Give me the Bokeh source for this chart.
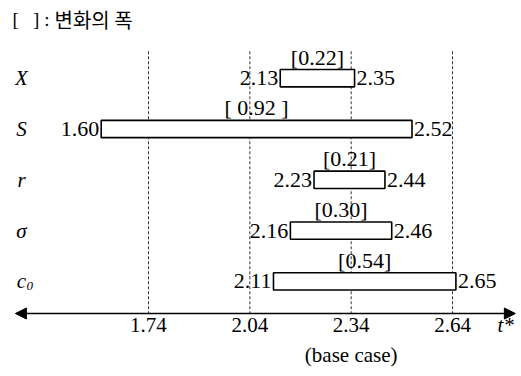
from bokeh.plotting import figure
from bokeh.models import ColumnDataSource, Range1d, Arrow, NormalHead, Label
from bokeh.core.properties import value
from bokeh.embed import file_html
from bokeh.resources import INLINE

# ---- data ----
params = ["X", "S", "r", "σ", "c"]
param_sub = ["", "", "", "", "0"]
low = [2.13, 1.60, 2.23, 2.16, 2.11]
high = [2.35, 2.52, 2.44, 2.46, 2.65]
width_labels = ["[0.22]", "[\u00a00.92\u00a0]", "[0.21]", "[0.30]", "[0.54]"]
ticks = [1.74, 2.04, 2.34, 2.64]
tick_labels = ["1.74", "2.04", "2.34", "2.64"]
base_case = 2.34

FONT_NAME = "Liberation Serif, Times New Roman, serif"
SERIF = value(FONT_NAME)
W, H = 521, 376

p = figure(width=W, height=H, output_backend="svg", toolbar_location=None,
           x_range=Range1d(1.3019, 2.8442), y_range=Range1d(5.872, -1.5295),
           x_axis_location=None, y_axis_location=None, min_border=0,
           outline_line_color=None, background_fill_color="white")
p.grid.visible = False

rows = list(range(len(params)))
AXIS_Y = 4.632
TOP_Y = -0.53

# dashed reference lines
p.segment(x0=ticks, x1=ticks, y0=[TOP_Y] * len(ticks), y1=[AXIS_Y] * len(ticks),
          line_color="#333333", line_width=1, line_dash="3 2")

src = ColumnDataSource(dict(
    row=rows, low=low, high=high,
    mid=[(a + b) / 2 for a, b in zip(low, high)],
    lo_txt=[f"{v:.2f}" for v in low], hi_txt=[f"{v:.2f}" for v in high],
    wl=width_labels,
))

BAR_H = 0.34
p.hbar(y="row", left="low", right="high", height=BAR_H, source=src,
       fill_color="white", line_color="black", line_width=1.6)

# value labels
p.text(x="low", y="row", text="lo_txt", source=src, text_align="right",
       text_baseline="middle", x_offset=-2, text_font=SERIF, text_font_size="22px",
       text_color="black")
p.text(x="high", y="row", text="hi_txt", source=src, text_align="left",
       text_baseline="middle", x_offset=2, text_font=SERIF, text_font_size="22px",
       text_color="black")

# bracket labels above bars
src.data["top"] = [r - BAR_H / 2 for r in rows]
p.text(x="mid", y="top", text="wl", source=src, text_align="center",
       text_baseline="bottom", text_font=SERIF, text_font_size="22px",
       text_color="black")

# row labels
LBL_X = 1.364
p.text(x=[LBL_X] * len(rows), y=rows, text=params, text_align="center",
       text_baseline="middle", text_font=SERIF, text_font_size="21px",
       text_font_style="italic", text_color="black")
p.text(x=[LBL_X] * len(rows), y=[r + 0.1 for r in rows], text=param_sub,
       text_align="left", text_baseline="middle", x_offset=5,
       text_font=SERIF, text_font_size="13px", text_font_style="italic",
       text_color="black")

# axis with arrows on both ends
p.add_layout(Arrow(x_start=1.346, x_end=2.826, y_start=AXIS_Y, y_end=AXIS_Y,
                   line_width=1.6, line_color="black",
                   start=NormalHead(size=11, fill_color="black", line_color="black"),
                   end=NormalHead(size=11, fill_color="black", line_color="black")))

# tick labels
TICK_Y = 4.86
p.text(x=ticks, y=[TICK_Y] * len(ticks), text=tick_labels, text_align="center",
       text_baseline="middle", text_font=SERIF, text_font_size="21px",
       text_color="black")
p.text(x=[base_case], y=[5.45], text=["(base case)"], text_align="center",
       text_baseline="middle", text_font=SERIF, text_font_size="21px",
       text_color="black")
p.text(x=[2.797], y=[TICK_Y], text=["t*"], text_align="center",
       text_baseline="middle", text_font=SERIF, text_font_size="21px",
       text_font_style="italic", text_color="black")

# legend note at top left
p.add_layout(Label(x=12, y=H - 19, x_units="screen", y_units="screen",
                   text="[\u00a0\u00a0\u00a0]\u00a0:", text_font=FONT_NAME,
                   text_font_size="19px", text_baseline="middle", text_color="black"))
p.add_layout(Label(x=54, y=H - 19, x_units="screen", y_units="screen",
                   text="변화의 폭", text_font="Noto Sans CJK KR", text_font_size="20px",
                   text_baseline="middle", text_color="black"))

open("out.html", "w").write(file_html(p, INLINE))
